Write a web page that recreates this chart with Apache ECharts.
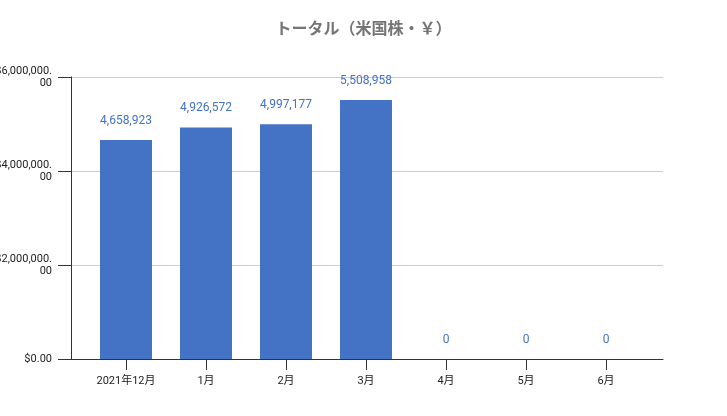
<!DOCTYPE html>
<html>
<head>
<meta charset="utf-8">
<script src="https://cdn.jsdelivr.net/npm/echarts@6/dist/echarts.min.js"></script>
<style>
  html, body { margin: 0; padding: 0; background: #fff; }
  #container { width: 727px; height: 416px; }
</style>
</head>
<body>
<div id="container"></div>
<script>
var months = ['2021年12月', '1月', '2月', '3月', '4月', '5月', '6月'];
var totals = [4658923, 4926572, 4997177, 5508958, 0, 0, 0];
var yTicks = [0, 2000000, 4000000, 6000000];

var font = 'Roboto, "Noto Sans CJK JP", sans-serif';

function money(v) {
  var s = '$' + v.toLocaleString('en-US') + '.00';
  if (v == 0) return s;
  // Sheets wraps the long labels after the dot
  return s.slice(0, -2) + '\n' + s.slice(-2);
}

var myChart = echarts.init(document.getElementById('container'));

var option = {
  animation: false,
  title: {
    left: 'center',
    top: 17,
    text: 'トータル（米国株・￥）',
    textStyle: { fontFamily: font, fontSize: 16, fontWeight: 'bold', color: '#757575' }
  },
  grid: [
    { left: 71, right: 64, top: 77, bottom: 57, outerBoundsMode: 'none' },
    { left: 86, right: 81, top: 77, bottom: 57, outerBoundsMode: 'none' }
  ],
  xAxis: [
    {
      gridIndex: 0,
      type: 'value',
      min: 0, max: 1,
      axisLine: { show: true, lineStyle: { color: '#333', width: 1 } },
      axisTick: { show: false },
      axisLabel: { show: false },
      splitLine: { show: false }
    },
    {
      gridIndex: 1,
      type: 'category',
      data: months,
      axisLine: { show: false },
      axisTick: { show: true, alignWithLabel: true, length: 11, lineStyle: { color: '#333' } },
      axisLabel: { fontFamily: font, fontSize: 11, color: '#222', margin: 17 }
    }
  ],
  yAxis: [
    {
      gridIndex: 0,
      type: 'value',
      min: 0, max: 6000000, interval: 2000000,
      axisLine: { show: true, lineStyle: { color: '#333' } },
      axisTick: { show: true, length: 13, lineStyle: { color: '#333' } },
      axisLabel: {
        fontFamily: font, fontSize: 11, color: '#222', margin: 19, lineHeight: 12,
        formatter: money
      },
      splitLine: { show: true, lineStyle: { color: '#cccccc' } }
    },
    {
      gridIndex: 1,
      type: 'value',
      min: 0, max: 6000000,
      show: false
    }
  ],
  series: [{
    name: 'トータル',
    type: 'bar',
    xAxisIndex: 1,
    yAxisIndex: 1,
    data: totals,
    barWidth: 52,
    itemStyle: { color: '#4472c4' },
    label: {
      show: true,
      position: 'top',
      distance: 13,
      fontFamily: font,
      fontSize: 12,
      color: '#4472c4',
      formatter: function (p) { return p.value.toLocaleString('en-US'); }
    }
  }]
};

myChart.setOption(option);
</script>
</body>
</html>
